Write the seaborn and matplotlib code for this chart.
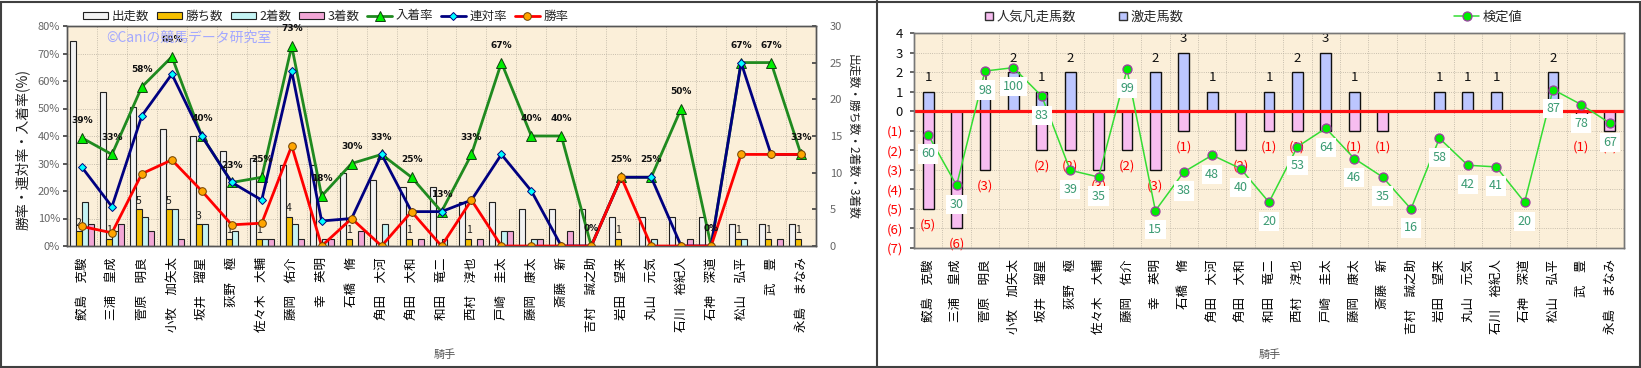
import numpy as np
import pandas as pd
import matplotlib.pyplot as plt
import seaborn as sns
from matplotlib.lines import Line2D
from matplotlib.patches import Patch, Rectangle

# ---- data ----
jockeys = ['鮫島　克駿', '三浦　皇成', '菅原　明良', '小牧　加矢太', '坂井　瑠星', '荻野　極',
           '佐々木　大輔', '藤岡　佑介', '幸　英明', '石橋　脩', '角田　大河', '角田　大和',
           '和田　竜二', '西村　淳也', '戸崎　圭太', '藤岡　康太', '斎藤　新', '吉村　誠之助',
           '岩田　望来', '丸山　元気', '石川　裕紀人', '石神　深道', '松山　弘平', '武　豊', '永島　まなみ']
starts = [28, 21, 19, 16, 15, 13, 12, 11, 11, 10, 9, 8, 8, 6, 6, 5, 5, 5, 4, 4, 4, 4, 3, 3, 3]
wins = [2, 1, 5, 5, 3, 1, 1, 4, 0, 1, 0, 1, 0, 1, 0, 0, 0, 0, 1, 0, 0, 0, 1, 1, 1]
seconds = [6, 2, 4, 5, 3, 2, 1, 3, 1, 0, 3, 0, 1, 0, 2, 1, 0, 0, 0, 1, 0, 0, 1, 0, 0]
thirds = [3, 3, 2, 1, 0, 0, 1, 1, 1, 2, 0, 1, 0, 1, 2, 1, 2, 0, 0, 0, 1, 0, 0, 1, 0]
place_rate = [39.3, 33.3, 57.9, 68.8, 40.0, 23.1, 25.0, 72.7, 18.2, 30.0, 33.3, 25.0, 12.5,
              33.3, 66.7, 40.0, 40.0, 0, 25.0, 25.0, 50.0, 0, 66.7, 66.7, 33.3]
top2_rate = [28.6, 14.3, 47.4, 62.5, 40.0, 23.1, 16.7, 63.6, 9.1, 10.0, 33.3, 12.5, 12.5,
             16.7, 33.3, 20.0, 0, 0, 25.0, 25.0, 0, 0, 66.7, 33.3, 33.3]
win_rate = [7.1, 4.8, 26.3, 31.3, 20.0, 7.7, 8.3, 36.4, 0, 10.0, 0, 12.5, 0,
            16.7, 0, 0, 0, 0, 25.0, 0, 0, 0, 33.3, 33.3, 33.3]

gekisou = [1, 0, 1, 2, 1, 2, 0, 0, 2, 3, 1, 0, 1, 2, 3, 1, 0, 0, 1, 1, 1, 0, 2, 0, 0]
ninki_bonsou = [5, 6, 3, 0, 2, 2, 3, 2, 3, 1, 0, 2, 1, 1, 1, 1, 1, 0, 0, 0, 0, 0, 0, 1, 1]
kentei = [60, 30, 98, 100, 83, 39, 35, 99, 15, 38, 48, 40, 20, 53, 64, 46, 35, 16, 58, 42,
          41, 20, 87, 78, 67]

count_names = ['出走数', '勝ち数', '2着数', '3着数']
count_colors = ['#f2f2f2', '#f5bf00', '#c4f4f4', '#f2a6d6']
pct_ticks = list(range(0, 81, 10))
count_ticks = list(range(0, 31, 5))
horse_ticks = list(range(-7, 5))

sns.set_theme(style='white')
plt.rcParams['font.family'] = ['Noto Sans CJK JP', 'DejaVu Sans']

W, H = 1641, 368
BG = '#fbefd9'
GRID = '#b8b0a0'
n = len(jockeys)
xs = np.arange(n)

fig = plt.figure(figsize=(W / 100, H / 100), dpi=100)

# ================= left panel =================
axL = fig.add_axes([67 / W, 1 - 246 / H, 749 / W, 220 / H])
axL.set_facecolor(BG)
axP = axL.twinx()

for p in pct_ticks[1:]:
    axL.axhline(p * 30 / 80, color=GRID, lw=0.6, ls=':', zorder=0.5)
for b in xs[:-1]:
    axL.axvline(b + 0.5, color=GRID, lw=0.6, ls=':', zorder=0.5)

count_df = pd.DataFrame({
    '騎手': jockeys * 4,
    '種別': sum([[k] * n for k in count_names], []),
    '数': starts + wins + seconds + thirds,
})
sns.barplot(data=count_df, x='騎手', y='数', hue='種別', order=jockeys, hue_order=count_names,
            palette=count_colors, saturation=1, width=0.8, edgecolor='#202020', linewidth=0.8,
            errorbar=None, legend=False, ax=axL, zorder=2)

# win count labels
for i, v in enumerate(wins):
    if v:
        axL.annotate(str(v), (i - 0.1, v), xytext=(0, 6), textcoords='offset points',
                     ha='center', va='center', fontsize=7.5, color='#202020')

rate_specs = [
    ('入着率', place_rate, '#1f8a1f', '^', '#00ee00', '#104010', 6.5),
    ('連対率', top2_rate, '#000080', 'D', '#00ffff', '#000080', 4.5),
    ('勝率', win_rate, '#ff0000', 'o', '#ffa500', '#704000', 5.5),
]
for name, vals, col, mk, mfc, mec, ms in rate_specs:
    sns.lineplot(x=xs, y=vals, color=col, linewidth=2, marker=mk, markersize=ms,
                 markerfacecolor=mfc, markeredgecolor=mec, markeredgewidth=0.7,
                 legend=False, ax=axP)

for i, v in enumerate(place_rate):
    axP.annotate(f'{int(v + 0.5)}%', (i, v), xytext=(0, 12.5), textcoords='offset points',
                 ha='center', va='center', fontsize=6.5, fontweight='bold',
                 family='DejaVu Sans', color='#101010')

axL.set_xlim(-0.5, n - 0.5)
axL.set_ylim(0, 30)
axP.set_ylim(0, 80)
axL.yaxis.tick_right()
axP.yaxis.tick_left()
axL.set_yticks(count_ticks)
axL.set_yticklabels([str(v) for v in count_ticks])
axP.set_yticks(pct_ticks)
axP.set_yticklabels([f'{v}%' for v in pct_ticks])
axL.tick_params(axis='y', labelsize=8, labelcolor='#666666', length=3, direction='in',
                color='#444444', pad=10)
axP.tick_params(axis='y', labelsize=8, labelcolor='#666666', length=3, color='#444444', pad=2)
axL.set_xticks(xs)
axL.set_xticklabels(jockeys, rotation=90, fontsize=9, color='#000000')
axL.tick_params(axis='x', length=0, pad=8)
axL.set_xlabel('')
axL.set_ylabel('')
axP.set_ylabel('')
for ax in (axL, axP):
    for s in ax.spines.values():
        s.set_color('#555555')
        s.set_linewidth(1)

fig.text(106 / W, 1 - 38 / H, '©Caniの競馬データ研究室', color='#a3a8ff', fontsize=10,
         ha='left', va='center')
fig.text(22 / W, 1 - 150 / H, '勝率・連対率・入着率(%)', rotation=90, fontsize=10,
         ha='center', va='center', color='#202020')
fig.text(852 / W, 1 - 137 / H, '出走数・勝ち数・2着数・3着数', rotation=270, fontsize=8.5,
         ha='center', va='center', color='#202020')
fig.text(445 / W, 1 - 355 / H, '騎手', fontsize=8, ha='center', va='center', color='#555555')

left_handles = [Patch(facecolor=c, edgecolor='#202020', linewidth=0.8) for c in count_colors]
left_handles += [Line2D([], [], color=col, lw=2, marker=mk, ms=ms, mfc=mfc, mec=mec, mew=0.7)
                 for _, _, col, mk, mfc, mec, ms in rate_specs]
left_labels = count_names + [s[0] for s in rate_specs]
axP.legend(left_handles, left_labels, loc='center left', bbox_to_anchor=(83 / W, 1 - 16 / H),
           bbox_transform=fig.transFigure, ncol=7, frameon=False, fontsize=9,
           handlelength=2.0, handleheight=0.5, handletextpad=0.3, columnspacing=0.6,
           borderpad=0, borderaxespad=0)

# ================= right panel =================
axR = fig.add_axes([914 / W, 1 - 248 / H, 710 / W, 215 / H])
axR.set_facecolor(BG)
axK = axR.twinx()

for y in horse_ticks[1:-1]:
    axR.axhline(y, color=GRID, lw=0.6, ls=':', zorder=0.5)
for b in xs[:-1]:
    axR.axvline(b + 0.5, color=GRID, lw=0.6, ls=':', zorder=0.5)

series_names = ['人気凡走馬数', '激走馬数']
series_colors = ['#f7bdf0', '#bcc6ff']
horse_df = pd.DataFrame({
    '騎手': jockeys * 2,
    '系列': [series_names[0]] * n + [series_names[1]] * n,
    '頭数': [-v for v in ninki_bonsou] + gekisou,
})
sns.barplot(data=horse_df, x='騎手', y='頭数', hue='系列', order=jockeys, hue_order=series_names,
            palette=series_colors, saturation=1, dodge=False, width=0.38, edgecolor='#101010',
            linewidth=1, errorbar=None, legend=False, ax=axR, zorder=2)
axR.axhline(0, color='#ff1010', lw=2.3, zorder=3)

for i, v in enumerate(gekisou):
    if v:
        axR.annotate(str(v), (i, v), xytext=(0, 10), textcoords='offset points',
                     ha='center', va='center', fontsize=9.5, color='#101010')
for i, v in enumerate(ninki_bonsou):
    if v:
        axR.annotate(f'({v})', (i, -v), xytext=(0, -11.5), textcoords='offset points',
                     ha='center', va='center', fontsize=9.5, color='#ff0000')

sns.lineplot(x=xs, y=kentei, color='#33dd33', linewidth=1.1, marker='o', markersize=6.5,
             markerfacecolor='#00ee00', markeredgecolor='#9a3fa0', markeredgewidth=0.9,
             legend=False, ax=axK)
for i, v in enumerate(kentei):
    axK.annotate(str(v), (i, v), xytext=(0, -13.7), textcoords='offset points',
                 ha='center', va='center', fontsize=9, color='#3a9a72',
                 bbox=dict(boxstyle='square,pad=0.25', fc='white', ec='none'))

axR.set_xlim(-0.5, n - 0.5)
axR.set_ylim(-7, 4)
axK.set_ylim(-7.2, 120.6)
axK.set_yticks([])
axK.set_ylabel('')
axR.set_yticks(horse_ticks)
axR.set_yticklabels([f'({-v})' if v < 0 else str(v) for v in horse_ticks])
for v, lab in zip(horse_ticks, axR.get_yticklabels()):
    lab.set_color('#ff0000' if v < 0 else '#101010')
axR.tick_params(axis='y', labelsize=9.5, length=3, color='#555555', pad=5)
axR.set_xticks(xs)
axR.set_xticklabels(jockeys, rotation=90, fontsize=9, color='#000000')
axR.tick_params(axis='x', length=0, pad=8)
axR.set_xlabel('')
axR.set_ylabel('')
for ax in (axR, axK):
    for s in ax.spines.values():
        s.set_color('#777777')
        s.set_linewidth(1)

fig.text(1270 / W, 1 - 355 / H, '騎手', fontsize=8, ha='center', va='center', color='#555555')

right_handles = [Patch(facecolor=c, edgecolor='#303030', linewidth=1) for c in series_colors]
axR.legend(right_handles, series_names, loc='center left', bbox_to_anchor=(985 / W, 1 - 17 / H),
           bbox_transform=fig.transFigure, ncol=2, frameon=False, fontsize=9.5,
           handlelength=0.6, handleheight=0.6, handletextpad=0.3, columnspacing=3.2,
           borderpad=0, borderaxespad=0)
k_handle = Line2D([], [], color='#33dd33', lw=1.1, marker='o', ms=6.5, mfc='#00ee00',
                  mec='#9a3fa0', mew=0.9)
axK.legend([k_handle], ['検定値'], loc='center left', bbox_to_anchor=(1454 / W, 1 - 17 / H),
           bbox_transform=fig.transFigure, frameon=False, fontsize=9.5, handlelength=1.9,
           handletextpad=0.3, borderpad=0, borderaxespad=0)

# panel frames
fig.add_artist(Rectangle((1 / W, 1.5 / H), (W - 2) / W, (H - 3) / H, transform=fig.transFigure,
                         fill=False, edgecolor='#404040', linewidth=1.5))
fig.add_artist(Line2D([877 / W, 877 / W], [0, 1], transform=fig.transFigure,
                      color='#404040', linewidth=1.5))

fig.savefig('out.png', dpi=100)
